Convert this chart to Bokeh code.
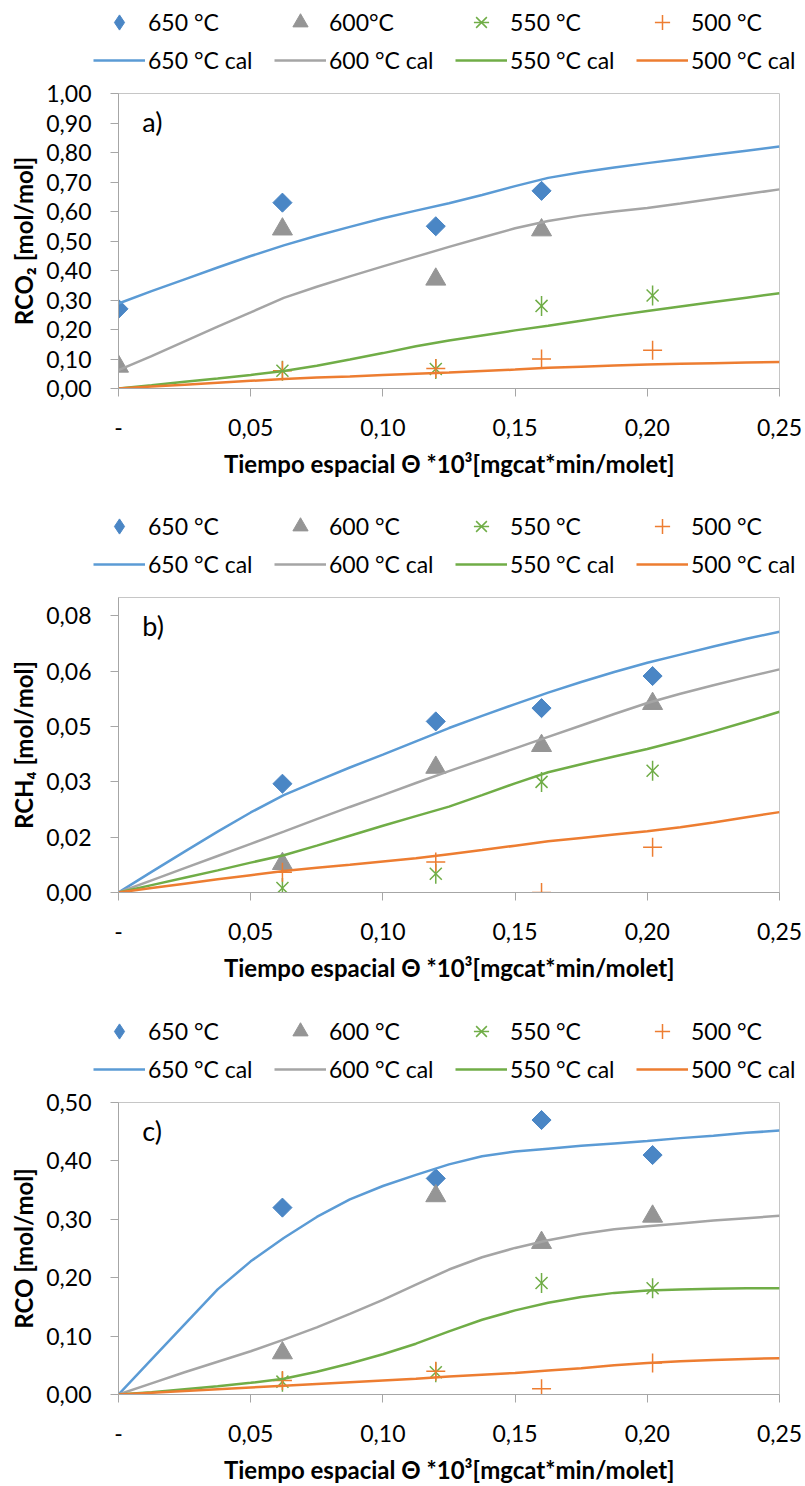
import math
from bokeh.plotting import figure
from bokeh.layouts import column
from bokeh.models import Legend, LegendItem, FixedTicker, Label, Range1d
from bokeh.embed import file_html
from bokeh.resources import INLINE

FONT = "Lato"

# ---------------- data ----------------
X_EXP = [0.0, 0.062, 0.12, 0.16, 0.202]
X_CAL = [0.0, 0.0125, 0.025, 0.0375, 0.05, 0.0625, 0.075, 0.0875, 0.1, 0.1125,
         0.125, 0.1375, 0.15, 0.1625, 0.175, 0.1875, 0.2, 0.2125, 0.225, 0.2375, 0.25]

X_TICKS = [0.0, 0.05, 0.10, 0.15, 0.20, 0.25]
X_TICK_LABELS = ["-", "0,05", "0,10", "0,15", "0,20", "0,25"]

NAMES_A = ["650 °C", "600°C", "550 °C", "500 °C"]
NAMES_BC = ["650 °C", "600 °C", "550 °C", "500 °C"]
CAL_NAMES = ["650 °C cal", "600 °C cal", "550 °C cal", "500 °C cal"]

# panel a) RCO2
A_650 = [0.27, 0.63, 0.55, 0.67, None]
A_600 = [0.075, 0.54, 0.37, 0.537, None]
A_550 = [None, 0.06, 0.066, 0.28, 0.315]
A_500 = [None, 0.06, 0.068, 0.10, 0.13]
A_650_CAL = [0.288, 0.33, 0.37, 0.41, 0.449, 0.485, 0.518, 0.548, 0.577, 0.603, 0.628,
             0.656, 0.686, 0.714, 0.733, 0.749, 0.764, 0.778, 0.792, 0.806, 0.82]
A_600_CAL = [0.062, 0.11, 0.16, 0.21, 0.258, 0.307, 0.345, 0.38, 0.414, 0.447, 0.48,
             0.512, 0.543, 0.568, 0.586, 0.60, 0.612, 0.627, 0.643, 0.659, 0.675]
A_550_CAL = [0.0, 0.011, 0.023, 0.034, 0.046, 0.059, 0.077, 0.098, 0.12, 0.143, 0.163,
             0.18, 0.197, 0.213, 0.23, 0.247, 0.263, 0.278, 0.293, 0.308, 0.323]
A_500_CAL = [0.0, 0.0065, 0.013, 0.0195, 0.026, 0.032, 0.037, 0.041, 0.046, 0.05, 0.054,
             0.059, 0.064, 0.07, 0.074, 0.078, 0.081, 0.084, 0.086, 0.088, 0.09]
A_Y_TICKS = [0.0, 0.1, 0.2, 0.3, 0.4, 0.5, 0.6, 0.7, 0.8, 0.9, 1.0]
A_Y_LABELS = ["0,00", "0,10", "0,20", "0,30", "0,40", "0,50", "0,60", "0,70", "0,80", "0,90", "1,00"]

# panel b) RCH4
B_650 = [None, 0.0295, 0.0464, 0.050, 0.0587]
B_600 = [None, 0.0078, 0.0339, 0.0398, 0.0512]
B_550 = [None, 0.0012, 0.0051, 0.030, 0.033]
B_500 = [None, 0.0055, 0.0083, 0.0, 0.0123]
B_650_CAL = [0.0, 0.0056, 0.0111, 0.0165, 0.0217, 0.0264, 0.0302, 0.0339, 0.0374, 0.041, 0.0446,
             0.0479, 0.0511, 0.0542, 0.0571, 0.0598, 0.0623, 0.0645, 0.0667, 0.0688, 0.0707]
B_600_CAL = [0.0, 0.0033, 0.0066, 0.0099, 0.0132, 0.0165, 0.0199, 0.0232, 0.0264, 0.0297, 0.0329,
             0.036, 0.0391, 0.0422, 0.0453, 0.0484, 0.0514, 0.0539, 0.0562, 0.0584, 0.0605]
B_550_CAL = [0.0, 0.002, 0.004, 0.006, 0.0081, 0.0101, 0.0127, 0.0154, 0.0181, 0.0207, 0.0233,
             0.0264, 0.0296, 0.0326, 0.0348, 0.0369, 0.0389, 0.0412, 0.0437, 0.0463, 0.049]
B_500_CAL = [0.0, 0.0012, 0.0024, 0.0036, 0.0047, 0.0058, 0.0067, 0.0075, 0.0084, 0.0093, 0.0104,
             0.0115, 0.0127, 0.0139, 0.0148, 0.0157, 0.0166, 0.0177, 0.019, 0.0204, 0.0218]
B_Y_TICKS = [0.0, 0.015, 0.03, 0.045, 0.06, 0.075]
B_Y_LABELS = ["0,00", "0,02", "0,03", "0,05", "0,06", "0,08"]

# panel c) RCO
C_650 = [None, 0.32, 0.37, 0.47, 0.41]
C_600 = [None, 0.071, 0.34, 0.26, 0.305]
C_550 = [None, 0.022, 0.038, 0.191, 0.182]
C_500 = [None, 0.024, 0.04, 0.01, 0.054]
C_650_CAL = [0.0, 0.06, 0.12, 0.18, 0.228, 0.268, 0.304, 0.334, 0.357, 0.376, 0.394,
             0.408, 0.416, 0.421, 0.426, 0.43, 0.434, 0.439, 0.443, 0.448, 0.452]
C_600_CAL = [0.0, 0.019, 0.038, 0.056, 0.074, 0.094, 0.115, 0.138, 0.162, 0.188, 0.214,
             0.235, 0.251, 0.264, 0.275, 0.283, 0.288, 0.293, 0.298, 0.302, 0.306]
C_550_CAL = [0.0, 0.004, 0.009, 0.014, 0.02, 0.027, 0.039, 0.053, 0.069, 0.087, 0.108,
             0.128, 0.144, 0.157, 0.167, 0.174, 0.178, 0.18, 0.181, 0.182, 0.182]
C_500_CAL = [0.0, 0.003, 0.006, 0.009, 0.012, 0.015, 0.018, 0.021, 0.024, 0.027, 0.031,
             0.034, 0.037, 0.041, 0.045, 0.05, 0.054, 0.057, 0.059, 0.061, 0.062]
C_Y_TICKS = [0.0, 0.1, 0.2, 0.3, 0.4, 0.5]
C_Y_LABELS = ["0,00", "0,10", "0,20", "0,30", "0,40", "0,50"]

X_TITLE = "Tiempo espacial Θ *10³[mgcat*min/molet]"

# ---------------- style ----------------
BLUE_M = "#4a86c5"
GRAY_M = "#959595"
GREEN = "#70ad47"
ORANGE = "#ed7d31"
BLUE_L = "#5b9bd5"
GRAY_L = "#a5a5a5"
AXIS_COLOR = "#a6a6a6"
OUTLINE = "#c6c6c6"
LEG_H = 79


def pts(xs, ys):
    px = [x for x, y in zip(xs, ys) if y is not None]
    py = [y for y in ys if y is not None]
    return px, py


def draw_series(p, exp, cal, legend_only=False):
    """Draw the four measured series and four calculated curves on p."""
    e650, e600, e550, e500 = exp
    c650, c600, c550, c500 = cal
    vis = not legend_only
    x, y = pts(X_EXP, e650)
    r650 = p.scatter(x, y, marker="diamond", size=14, fill_color=BLUE_M,
                     line_color=BLUE_M, visible=vis)
    if vis:
        p.scatter(x, y, marker="square", size=13.5, angle=math.pi / 4,
                  fill_color=BLUE_M, line_color=BLUE_M)
    x, y = pts(X_EXP, e600)
    r600 = p.scatter(x, y, marker="triangle", size=20, fill_color=GRAY_M,
                     line_color=GRAY_M, visible=vis)
    x, y = pts(X_EXP, e550)
    r550a = p.scatter(x, y, marker="x", size=17, line_color=GREEN,
                      line_width=1.5, visible=vis)
    r550b = p.scatter(x, y, marker="dash", size=20, angle=math.pi / 2,
                      line_color=GREEN, line_width=1.5, visible=vis)
    x, y = pts(X_EXP, e500)
    r500 = p.scatter(x, y, marker="cross", size=19, line_color=ORANGE,
                     line_width=1.5, visible=vis)
    l650 = p.line(X_CAL, c650, line_color=BLUE_L, line_width=2.5, visible=vis)
    l600 = p.line(X_CAL, c600, line_color=GRAY_L, line_width=2.5, visible=vis)
    l550 = p.line(X_CAL, c550, line_color=GREEN, line_width=2.5, visible=vis)
    l500 = p.line(X_CAL, c500, line_color=ORANGE, line_width=2.5, visible=vis)
    return (r650, r600, (r550a, r550b), r500), (l650, l600, l550, l500)


def make_legend_fig(exp, cal, names):
    q = figure(width=805, height=LEG_H, x_range=Range1d(0, 1), y_range=Range1d(0, 1),
               min_border_left=0, min_border_right=0, min_border_top=0, min_border_bottom=0,
               x_axis_location=None, y_axis_location=None, frame_align=False,
               output_backend="svg", toolbar_location=None,
               background_fill_color="white", border_fill_color="white")
    q.outline_line_color = None
    q.grid.visible = False
    marks, lines = draw_series(q, exp, cal, legend_only=True)
    common = dict(orientation="horizontal",
                  glyph_width=52, glyph_height=38, label_height=38,
                  label_width=108, label_standoff=3, spacing=18,
                  padding=0, margin=0, border_line_color=None,
                  background_fill_alpha=0, inactive_fill_alpha=0,
                  label_text_font=FONT, label_text_font_size="23px",
                  label_text_color="black")
    mark_items = [LegendItem(label=names[0], renderers=[marks[0]]),
                  LegendItem(label=names[1], renderers=[marks[1]]),
                  LegendItem(label=names[2], renderers=list(marks[2])),
                  LegendItem(label=names[3], renderers=[marks[3]])]
    line_items = [LegendItem(label=CAL_NAMES[i], renderers=[lines[i]]) for i in range(4)]
    q.add_layout(Legend(items=mark_items, location=(93, LEG_H - 41), **common))
    q.add_layout(Legend(items=line_items, location=(93, 0), **common))
    return q


def make_panel(exp, cal, yticks, ylabels, ymax, ylabel, tag, height, bottom):
    p = figure(width=805, height=height,
               min_border_left=118, min_border_right=26,
               min_border_top=14, min_border_bottom=bottom,
               x_range=(0, 0.25), y_range=(0, ymax),
               output_backend="svg", toolbar_location=None,
               background_fill_color="white", border_fill_color="white")
    p.xgrid.visible = False
    p.ygrid.visible = False
    p.outline_line_color = OUTLINE
    p.outline_line_width = 1

    for ax in (p.xaxis[0], p.yaxis[0]):
        ax.axis_line_color = AXIS_COLOR
        ax.major_tick_line_color = AXIS_COLOR
        ax.minor_tick_line_color = None
        ax.major_tick_out = 8
        ax.major_tick_in = 0
        ax.major_label_text_font = FONT
        ax.major_label_text_font_size = "23px"
        ax.major_label_text_color = "black"
        ax.axis_label_text_font = FONT
        ax.axis_label_text_font_size = "24px"
        ax.axis_label_text_font_style = "bold"
        ax.axis_label_text_color = "black"

    p.xaxis.ticker = FixedTicker(ticks=X_TICKS)
    p.xaxis.major_label_overrides = dict(zip(X_TICKS, X_TICK_LABELS))
    p.xaxis.axis_label = X_TITLE
    p.xaxis.major_label_standoff = 22
    p.xaxis.axis_label_standoff = 10

    p.yaxis.ticker = FixedTicker(ticks=yticks)
    p.yaxis.major_label_overrides = dict(zip(yticks, ylabels))
    p.yaxis.axis_label = ylabel
    p.yaxis.major_label_standoff = 19
    p.yaxis.axis_label_standoff = 5

    draw_series(p, exp, cal)

    p.add_layout(Label(x=0.009, y=ymax * 0.905, text=tag, text_font=FONT,
                       text_font_size="27px", text_baseline="middle",
                       text_align="left", text_color="black"))
    return p


EXP_A = (A_650, A_600, A_550, A_500)
CAL_A = (A_650_CAL, A_600_CAL, A_550_CAL, A_500_CAL)
EXP_B = (B_650, B_600, B_550, B_500)
CAL_B = (B_650_CAL, B_600_CAL, B_550_CAL, B_500_CAL)
EXP_C = (C_650, C_600, C_550, C_500)
CAL_C = (C_650_CAL, C_600_CAL, C_550_CAL, C_500_CAL)

la = make_legend_fig(EXP_A, CAL_A, NAMES_A)
pa = make_panel(EXP_A, CAL_A, A_Y_TICKS, A_Y_LABELS, 1.0, "RCO₂ [mol/mol]", "a)", 425, 116)
lb = make_legend_fig(EXP_B, CAL_B, NAMES_BC)
pb = make_panel(EXP_B, CAL_B, B_Y_TICKS, B_Y_LABELS, 0.08, "RCH₄ [mol/mol]", "b)", 426, 117)
lc = make_legend_fig(EXP_C, CAL_C, NAMES_BC)
pc = make_panel(EXP_C, CAL_C, C_Y_TICKS, C_Y_LABELS, 0.5, "RCO [mol/mol]", "c)", 398, 89)

layout = column(la, pa, lb, pb, lc, pc, spacing=0)
open("out.html", "w").write(file_html(layout, INLINE, "chart"))
